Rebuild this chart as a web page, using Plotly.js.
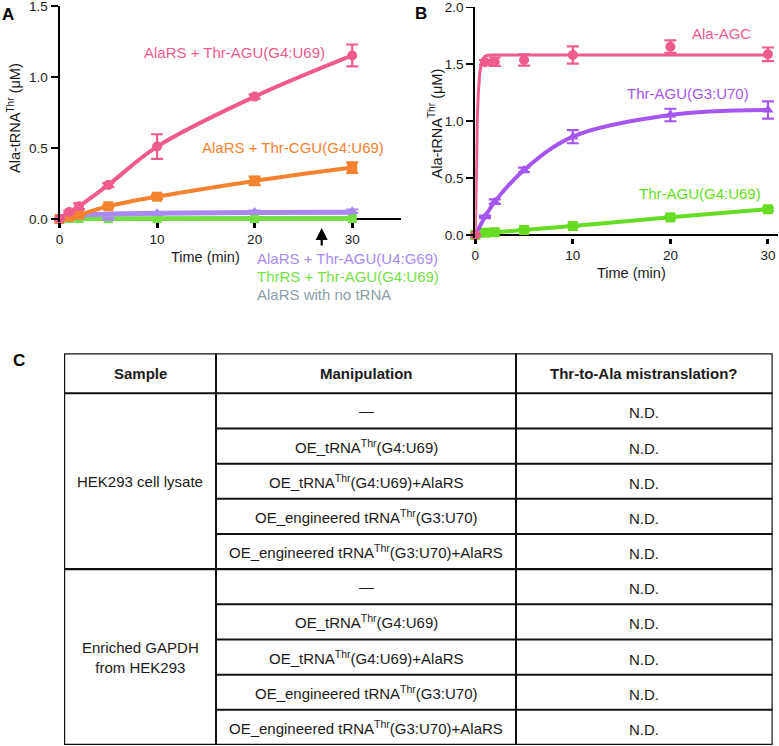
<!DOCTYPE html>
<html><head><meta charset="utf-8">
<script src="https://cdn.plot.ly/plotly-3.0.1.min.js"></script>
<style>html,body{margin:0;padding:0;background:#fff}#chart{width:779px;height:746px}</style>
</head><body><div id="chart"></div>
<script>
// ---------- Panel A data (time in min, Ala-tRNA in uM) ----------
const timeA = [0, 1, 2, 5, 10, 20, 30];
const alaRS_AGU_G4U69 = [0, 0.05, 0.09, 0.24, 0.51, 0.862, 1.152];
const alaRS_AGU_G4U69_err = [0, 0.01, 0.02, 0.015, 0.087, 0.015, 0.077];
const alaRS_CGU_G4U69 = [0, 0.016, 0.03, 0.09, 0.157, 0.268, 0.362];
const alaRS_CGU_G4U69_err = [0, 0.005, 0.01, 0.01, 0.015, 0.03, 0.037];
const alaRS_AGU_U4G69 = [0, 0.01, 0.012, 0.003, 0.04, 0.05, 0.055];
const alaRS_AGU_U4G69_err = [0, 0.005, 0.005, 0.005, 0.008, 0.01, 0.012];
const alaRS_AGU_U4G69_fit = [0, 0.02, 0.028, 0.035, 0.04, 0.045, 0.048];
const thrRS_AGU_G4U69 = [0, 0.004, 0.003, 0.002, 0.002, 0.003, 0.004];
const alaRS_noTRNA = [0, 0, 0, 0.001, 0, 0.001, 0.001];

// ---------- Panel B data ----------
const timeB = [0, 1, 2, 5, 10, 20, 30];
const alaAGC = [0, 1.517, 1.522, 1.537, 1.581, 1.654, 1.587];
const alaAGC_err = [0, 0.02, 0.037, 0.05, 0.076, 0.055, 0.06];
const alaAGC_fitTime = [0, 0.1, 0.2, 0.3, 0.45, 0.6, 0.8, 1.0, 1.3, 1.8, 30];
const alaAGC_fit = [0, 0.62, 1.0, 1.23, 1.42, 1.5, 1.55, 1.57, 1.578, 1.58, 1.58];
const thrAGU_G3U70 = [0, 0.161, 0.293, 0.571, 0.864, 1.054, 1.098];
const thrAGU_G3U70_err = [0, 0.01, 0.02, 0.02, 0.058, 0.055, 0.076];
const thrAGU_G4U69 = [0, 0.02, 0.024, 0.044, 0.079, 0.155, 0.226];
const thrAGU_G4U69_err = [0, 0.005, 0.005, 0.005, 0.01, 0.01, 0.015];

// ---------- Panel C table ----------
const tableHeader = ["Sample", "Manipulation", "Thr-to-Ala mistranslation?"];
const sampleGroups = ["HEK293 cell lysate", "Enriched GAPDH<br>from HEK293"];
const manipulations = ["—", "OE_tRNA<sup>Thr</sup>(G4:U69)", "OE_tRNA<sup>Thr</sup>(G4:U69)+AlaRS",
  "OE_engineered tRNA<sup>Thr</sup>(G3:U70)", "OE_engineered tRNA<sup>Thr</sup>(G3:U70)+AlaRS"];
const mistranslation = ["N.D.", "N.D.", "N.D.", "N.D.", "N.D.", "N.D.", "N.D.", "N.D.", "N.D.", "N.D."];

// ---------- styles / geometry ----------
const W = 779, H = 746;
const px = v => v / W, py = v => 1 - v / H;
const FONT = 'Liberation Sans, Arial, Helvetica, sans-serif';
const C = {pink: '#ef5b8d', orange: '#f5822f', lav: '#a98af2', green: '#74e045', gray: '#8b9ea8',
           purpleB: '#a356f0', greenB: '#66dd22', ink: '#1a1a1a'};

function series(x, y, err, color, symbol, msize, lw, xa, ya, shape, mode) {
  const t = {x: x, y: y, xaxis: xa, yaxis: ya, type: 'scatter', mode: mode || 'lines+markers',
    cliponaxis: false, hoverinfo: 'skip',
    line: {color: color, width: lw, shape: shape || 'linear'},
    marker: {color: color, symbol: symbol, size: msize}};
  if (err) t.error_y = {type: 'data', array: err, visible: true, color: color, thickness: 2.2, width: 6};
  return t;
}

const traces = [
  series(timeA, alaRS_noTRNA, null, C.gray, 'square', 8, 4, 'x', 'y'),
  series(timeA, thrRS_AGU_G4U69, null, C.green, 'square', 9, 5, 'x', 'y'),
  series(timeA, alaRS_AGU_U4G69_fit, null, C.lav, 'triangle-up', 1, 5, 'x', 'y', 'spline', 'lines'),
  series(timeA, alaRS_AGU_U4G69, alaRS_AGU_U4G69_err, C.lav, 'triangle-up', 10, 0, 'x', 'y', 'linear', 'markers'),
  series(timeA, alaRS_CGU_G4U69, alaRS_CGU_G4U69_err, C.orange, 'square', 10, 4, 'x', 'y', 'spline'),
  series(timeA, alaRS_AGU_G4U69, alaRS_AGU_G4U69_err, C.pink, 'circle', 10, 4, 'x', 'y', 'spline'),

  series(timeB, thrAGU_G4U69, thrAGU_G4U69_err, C.greenB, 'square', 10, 4, 'x2', 'y2'),
  series(timeB, thrAGU_G3U70, thrAGU_G3U70_err, C.purpleB, 'triangle-up', 10, 4, 'x2', 'y2', 'spline'),
  series(alaAGC_fitTime, alaAGC_fit, null, C.pink, 'circle', 1, 3, 'x2', 'y2', 'linear', 'lines'),
  series(timeB, alaAGC, alaAGC_err, C.pink, 'circle', 10, 0, 'x2', 'y2', 'linear', 'markers'),
  {x: [0], y: [0], xaxis: 'x3', yaxis: 'y3', type: 'scatter', mode: 'markers',
   marker: {size: 1, color: 'rgba(0,0,0,0)'}, hoverinfo: 'skip'}
];

const axFont = {family: FONT, size: 13.5, color: C.ink};
function xAxis(domain, range) {
  return {domain: domain, range: range, showgrid: false, zeroline: false, showline: false,
    ticks: 'outside', ticklen: 5, tickwidth: 3, tickcolor: '#000', dtick: 10, tick0: 0,
    tickfont: axFont, fixedrange: true, ticklabeloverflow: 'allow'};
}
function yAxis(domain, range, anchor) {
  return {domain: domain, range: range, anchor: anchor, showgrid: false,
    zeroline: true, zerolinecolor: '#000', zerolinewidth: 2,
    showline: true, linecolor: '#000', linewidth: 2,
    ticks: 'outside', ticklen: 7, tickwidth: 1.6, tickcolor: '#000', dtick: 0.5, tick0: 0,
    tickformat: '.1f', tickfont: axFont, fixedrange: true, ticklabeloverflow: 'allow'};
}

// table geometry (px units inside the table axis)
const colWidths = [152, 300, 256.7];
const headerH = 40, rowH = 35.17;
const colEdges = [0, colWidths[0], colWidths[0] + colWidths[1], colWidths[0] + colWidths[1] + colWidths[2]];
const tableH = headerH + rowH * manipulations.length * sampleGroups.length;

const shapes = [];
const annotations = [];
const lineStyle = (w) => ({color: '#111', width: w});
shapes.push({type: 'rect', xref: 'x3', yref: 'y3', x0: 0, x1: colEdges[3], y0: 0, y1: tableH, line: lineStyle(2.4)});
[1, 2].forEach(i => shapes.push({type: 'line', xref: 'x3', yref: 'y3', x0: colEdges[i], x1: colEdges[i], y0: 0, y1: tableH, line: lineStyle(2)}));
shapes.push({type: 'line', xref: 'x3', yref: 'y3', x0: 0, x1: colEdges[3], y0: headerH, y1: headerH, line: lineStyle(2)});
tableHeader.forEach((t, i) => annotations.push({xref: 'x3', yref: 'y3', x: (colEdges[i] + colEdges[i + 1]) / 2, y: headerH / 2,
  text: '<b>' + t + '</b>', showarrow: false, font: {family: FONT, size: 15, color: C.ink}}));
let r = 0;
sampleGroups.forEach((g, gi) => {
  const gTop = headerH + gi * manipulations.length * rowH;
  annotations.push({xref: 'x3', yref: 'y3', x: colWidths[0] / 2, y: gTop + manipulations.length * rowH / 2,
    text: g, showarrow: false, font: {family: FONT, size: 15, color: C.ink}});
  if (gi > 0) shapes.push({type: 'line', xref: 'x3', yref: 'y3', x0: 0, x1: colEdges[3], y0: gTop, y1: gTop, line: lineStyle(2.2)});
  manipulations.forEach((m, mi) => {
    const yTop = gTop + mi * rowH;
    if (mi > 0) shapes.push({type: 'line', xref: 'x3', yref: 'y3', x0: colEdges[1], x1: colEdges[3], y0: yTop, y1: yTop, line: lineStyle(2)});
    annotations.push({xref: 'x3', yref: 'y3', x: (colEdges[1] + colEdges[2]) / 2, y: yTop + rowH / 2,
      text: m, showarrow: false, font: {family: FONT, size: 15, color: C.ink}});
    annotations.push({xref: 'x3', yref: 'y3', x: (colEdges[2] + colEdges[3]) / 2, y: yTop + rowH / 2 + 2,
      text: mistranslation[r], showarrow: false, font: {family: FONT, size: 15, color: C.ink}});
    r++;
  });
});

const lab = (text, x, y, color, size, anchor, extra) => Object.assign({xref: 'paper', yref: 'paper', x: px(x), y: py(y),
  text: text, showarrow: false, xanchor: anchor || 'center', yanchor: 'middle',
  font: {family: FONT, size: size, color: color}}, extra || {});
annotations.push(
  lab('<b>A</b>', 8, 14, '#000', 17),
  lab('<b>B</b>', 421, 13, '#000', 17),
  lab('<b>C</b>', 19, 360, '#000', 17),
  lab('AlaRS + Thr-AGU(G4:U69)', 234.5, 52, C.pink, 15),
  lab('AlaRS + Thr-CGU(G4:U69)', 293, 147, C.orange, 15),
  lab('AlaRS + Thr-AGU(U4:G69)', 255, 258, C.lav, 15, 'left'),
  lab('ThrRS + Thr-AGU(G4:U69)', 255, 276, C.green, 15, 'left'),
  lab('AlaRS with no tRNA', 255, 295, C.gray, 15, 'left'),
  lab('Ala-AGC', 721, 33, C.pink, 15),
  lab('Thr-AGU(G3:U70)', 688, 94, C.purpleB, 15),
  lab('Thr-AGU(G4:U69)', 699.5, 194, C.greenB, 15),
  lab('Time (min)', 205.5, 257, C.ink, 14.5),
  lab('Time (min)', 631.7, 273, C.ink, 14.5),
  lab('Ala-tRNA<sup>Thr</sup> (μM)', 14, 118, C.ink, 14.5, 'center', {textangle: -90}),
  lab('Ala-tRNA<sup>Thr</sup> (μM)', 435, 123.5, C.ink, 14.5, 'center', {textangle: -90}),
  {xref: 'paper', yref: 'paper', x: px(321.7), y: py(228), text: '', showarrow: true,
   ax: 0, ay: 19, arrowhead: 2, arrowsize: 1.1, arrowwidth: 2.2, arrowcolor: '#000'}
);

const layout = {
  width: W, height: H, margin: {l: 0, r: 0, t: 0, b: 0}, showlegend: false,
  paper_bgcolor: '#fff', plot_bgcolor: 'rgba(0,0,0,0)', font: {family: FONT, color: C.ink},
  xaxis: Object.assign(xAxis([px(59.5), px(401)], [0, 35]), {anchor: 'y'}),
  yaxis: yAxis([py(221.5), py(6)], [-0.0176, 1.5], 'x'),
  xaxis2: Object.assign(xAxis([px(475.3), px(777.7)], [0, 31]), {anchor: 'y2'}),
  yaxis2: yAxis([py(237.5), py(7.3)], [-0.022, 2.0], 'x2'),
  xaxis3: {domain: [px(64), px(772.7)], range: [0, colEdges[3]], visible: false, anchor: 'y3', fixedrange: true},
  yaxis3: {domain: [py(745), py(353.3)], range: [tableH, 0], visible: false, anchor: 'x3', fixedrange: true},
  shapes: shapes, annotations: annotations
};

Plotly.newPlot('chart', traces, layout, {displayModeBar: false, staticPlot: true});
</script></body></html>
